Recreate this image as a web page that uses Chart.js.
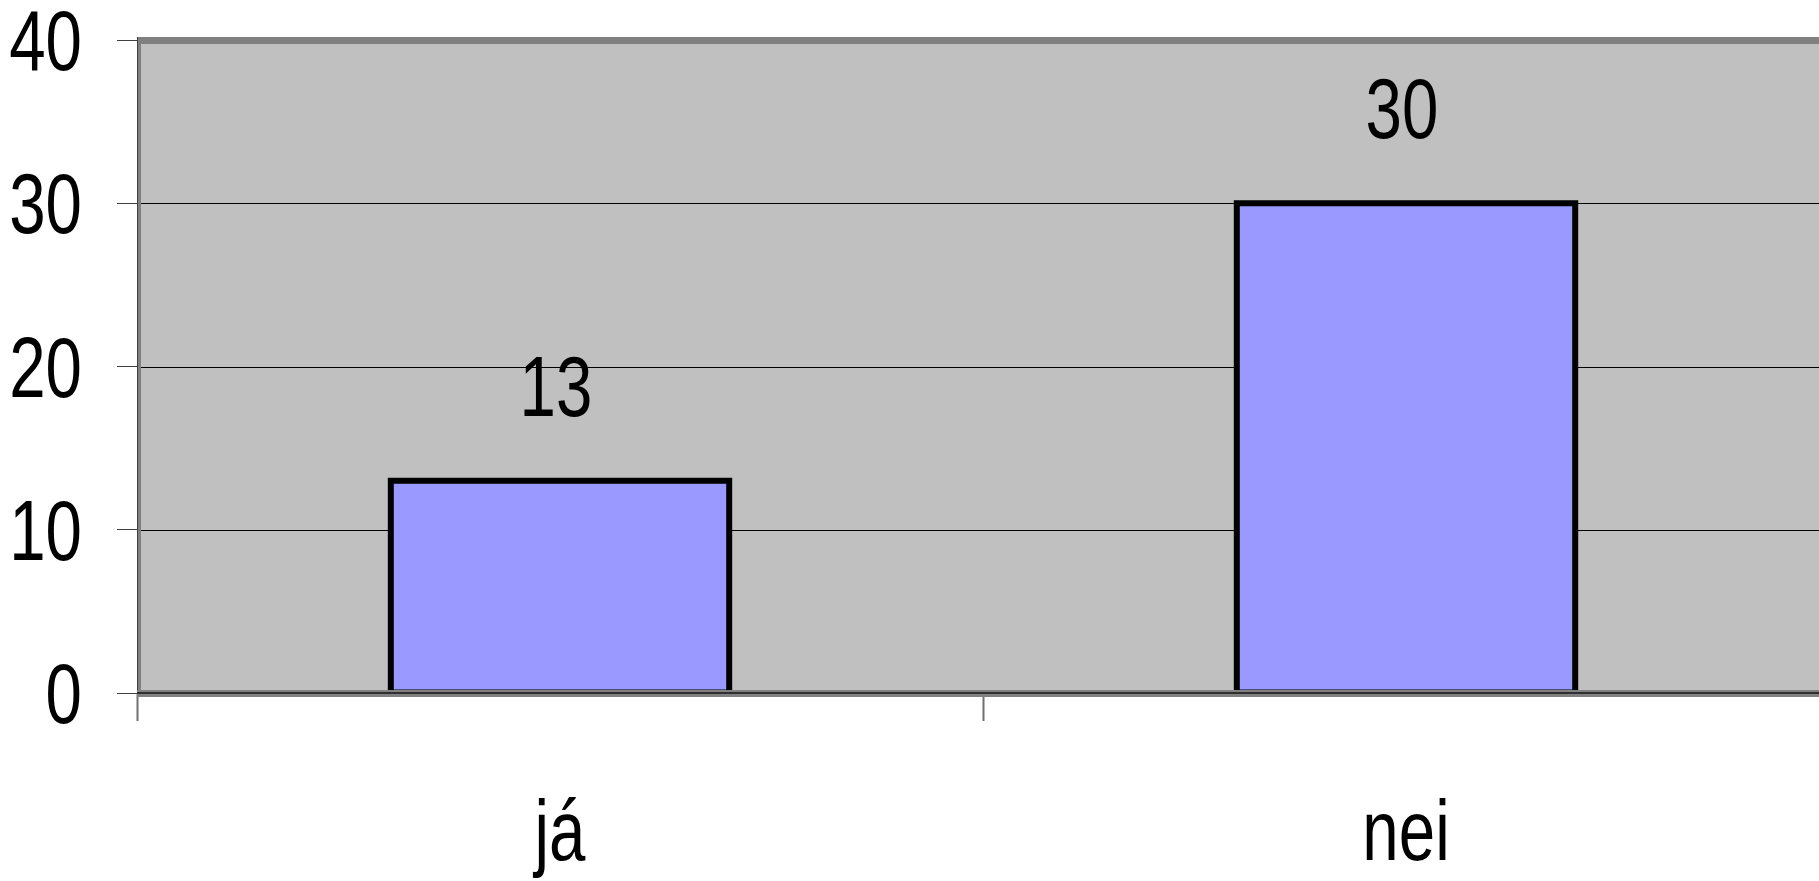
<!DOCTYPE html>
<html>
<head>
<meta charset="utf-8">
<script src="https://cdn.jsdelivr.net/npm/chart.js@4.4.0/dist/chart.umd.min.js"></script>
<style>
  html, body { margin: 0; padding: 0; background: #fff; overflow: hidden; }
  #wrap { width: 1830px; height: 881px; }
</style>
</head>
<body>
<div id="wrap"><canvas id="chart" width="1830" height="881"></canvas></div>
<script>
const categories = ['já', 'nei'];
const values = [13, 30];
const yTicks = [0, 10, 20, 30, 40];

const FONT = "'Liberation Sans', Arial, sans-serif";
const FONT_SIZE = 85;
const NARROW = 0.77; // squeeze to look like Arial Narrow

function narrowText(ctx, text, x, y) {
    ctx.save();
    ctx.translate(x, y);
    ctx.scale(NARROW, 1);
    ctx.fillText(text, 0, 0);
    ctx.restore();
}

// plot background + frame, drawn behind bars
const plotBg = {
    id: 'plotBg',
    beforeDatasetsDraw(chart) {
        const { ctx, chartArea: a } = chart;
        ctx.save();
        ctx.fillStyle = '#c0c0c0';
        ctx.fillRect(a.left, a.top, a.right - a.left, a.bottom - a.top);
        const y = chart.scales.y;
        ctx.strokeStyle = '#000';
        ctx.lineWidth = 1;
        [10, 20, 30].forEach(v => {
            const py = Math.round(y.getPixelForValue(v)) + 0.5;
            ctx.beginPath(); ctx.moveTo(a.left, py); ctx.lineTo(a.right, py); ctx.stroke();
        });
        // top band
        ctx.fillStyle = '#808080';
        ctx.fillRect(a.left, a.top - 3, a.right - a.left, 7);
        // left edge
        ctx.fillRect(a.left, a.top - 3, 4, a.bottom - a.top + 3);
        ctx.fillStyle = '#404040';
        ctx.fillRect(a.left, a.top - 3, 1, a.bottom - a.top + 3);
        ctx.restore();
    },
    afterDatasetsDraw(chart) {
        const { ctx, chartArea: a } = chart;
        ctx.save();
        // bar outlines centred on the bar edges
        ctx.strokeStyle = '#000';
        ctx.lineWidth = 6;
        chart.getDatasetMeta(0).data.forEach(bar => {
            const l = bar.x - bar.width / 2;
            ctx.strokeRect(l, bar.y, bar.width, bar.base - bar.y);
        });
        // bottom edge over the bars
        ctx.fillStyle = '#808080';
        ctx.fillRect(a.left, a.bottom - 3, a.right - a.left, 7);
        ctx.fillStyle = '#303030';
        ctx.fillRect(a.left, a.bottom - 1, a.right - a.left, 2);
        ctx.restore();
    }
};

// tick labels and value labels in a narrow face
const texts = {
    id: 'texts',
    afterDatasetsDraw(chart) {
        const { ctx } = chart;
        const xs = chart.scales.x, ys = chart.scales.y;
        ctx.save();
        ctx.font = FONT_SIZE + 'px ' + FONT;
        ctx.fillStyle = '#000';
        ctx.textBaseline = 'alphabetic';

        ctx.textAlign = 'right';
        yTicks.forEach(v => narrowText(ctx, String(v), 82, ys.getPixelForValue(v) + 30));

        ctx.textAlign = 'center';
        categories.forEach((c, i) => narrowText(ctx, c, xs.getPixelForValue(i), 860));

        chart.getDatasetMeta(0).data.forEach((bar, i) => {
            narrowText(ctx, String(values[i]), bar.x - 4, bar.y - 96 + 31);
        });
        ctx.restore();
    }
};

new Chart(document.getElementById('chart'), {
    type: 'bar',
    data: {
        labels: categories,
        datasets: [{
            data: values,
            backgroundColor: '#9999ff',
            borderWidth: 0,
            barPercentage: 0.40,
            categoryPercentage: 1
        }]
    },
    options: {
        responsive: false,
        animation: false,
        layout: { padding: { top: 40, right: 1, left: 0, bottom: 0 } },
        plugins: { legend: { display: false }, tooltip: { enabled: false } },
        scales: {
            y: {
                min: 0, max: 40,
                afterFit(s) { s.width = 137; },
                afterBuildTicks(s) { s.ticks = yTicks.map(v => ({ value: v })); },
                border: { display: false },
                grid: { drawOnChartArea: false, tickLength: 20, color: '#404040', tickWidth: 1 },
                ticks: { display: false }
            },
            x: {
                offset: true,
                afterFit(s) { s.height = 881 - 693; },
                border: { display: false },
                grid: { offset: true, drawOnChartArea: false, tickLength: 28, color: '#707070', tickWidth: 2 },
                ticks: { display: false }
            }
        }
    },
    plugins: [plotBg, texts]
});
</script>
</body>
</html>
